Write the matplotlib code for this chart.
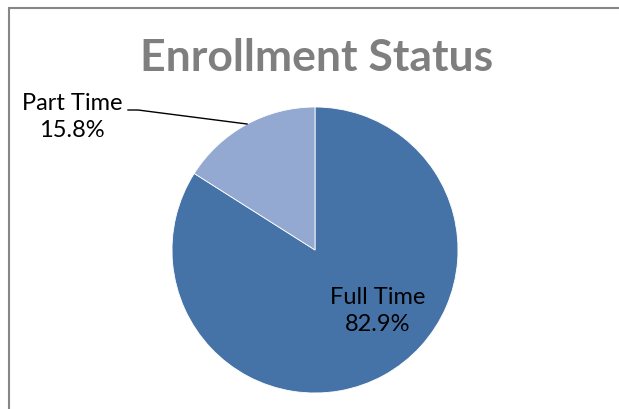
import matplotlib.pyplot as plt
from matplotlib.patches import Rectangle

labels = ["Full Time", "Part Time"]
shares = [82.9, 15.8]
colors = ["#4573A7", "#94A9D1"]

W, H = 619, 409
fig = plt.figure(figsize=(W / 100, H / 100), dpi=100)
ax = fig.add_axes([0, 0, 1, 1])

# chart area border (cut off at right and bottom)
ax.add_patch(Rectangle((9, -20), W + 20, H - 8 + 20, fill=False,
                       edgecolor="#868686", linewidth=1.5))

cx, cy, r = 315, H - 250, 143
ax.pie(shares, colors=colors, startangle=90, counterclock=False,
       center=(cx, cy), radius=r, frame=True,
       wedgeprops=dict(edgecolor="white", linewidth=0.6))
ax.set_xlim(0, W)
ax.set_ylim(0, H)
ax.set_aspect("equal")
ax.axis("off")

ax.text(317, H - 58, "Enrollment Status", ha="center", va="center",
        fontsize=32, fontweight="bold", color="#7F7F7F", family="Lato")

ax.text(378, H - 311, f"{labels[0]}\n{shares[0]}%", ha="center", va="center",
        fontsize=17, color="#000000", family="Lato", linespacing=1.4)
ax.text(72, H - 117, f"{labels[1]}\n{shares[1]}%", ha="center", va="center",
        fontsize=17, color="#000000", family="Lato", linespacing=1.4)
ax.plot([128, 138, 247], [H - 110, H - 110, H - 124], color="black", lw=1)

fig.savefig("out.png", dpi=100)
